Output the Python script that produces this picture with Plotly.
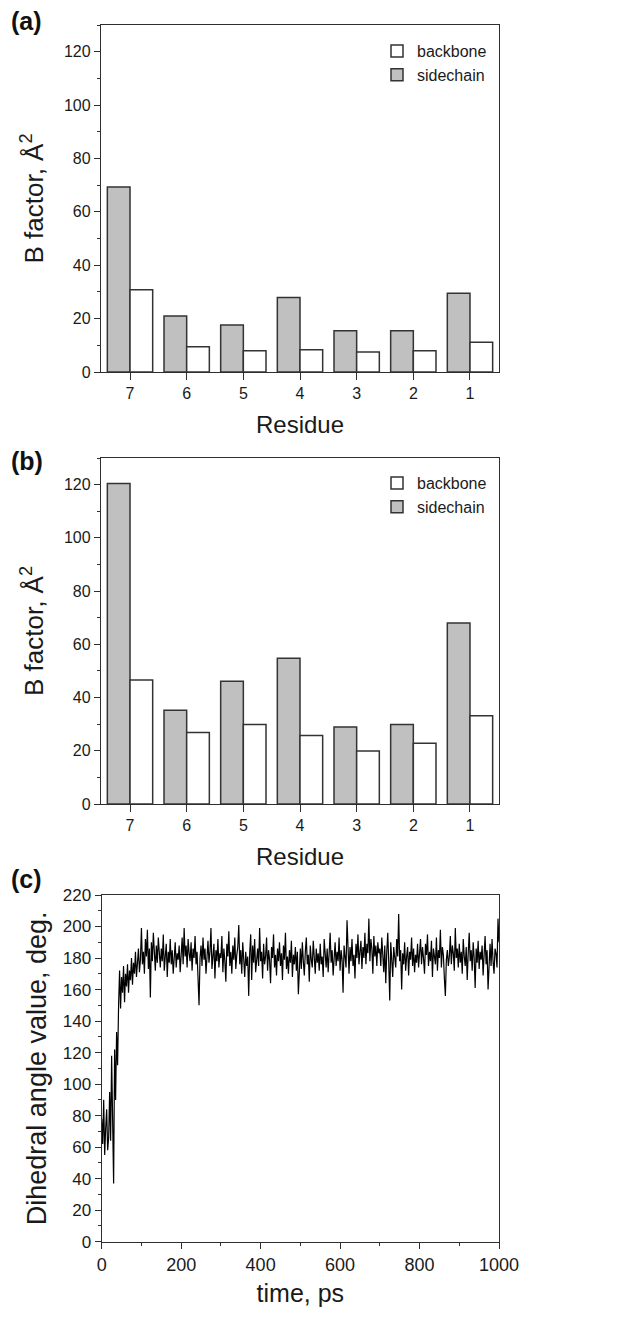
import plotly.graph_objects as go

# ---------------- data ----------------
residues = ["7", "6", "5", "4", "3", "2", "1"]

a_sidechain = [69.3, 21.0, 17.6, 27.9, 15.5, 15.5, 29.5]
a_backbone = [30.8, 9.5, 8.0, 8.3, 7.5, 8.0, 11.1]

b_sidechain = [120.4, 35.2, 46.1, 54.8, 28.9, 29.9, 68.0]
b_backbone = [46.6, 26.9, 29.9, 25.7, 19.9, 22.8, 33.2]

time_step_ps = 2.5
dihedral_deg = [
    78, 62, 90, 55, 72, 84, 58, 66, 95, 64, 118, 82, 37, 122, 90, 133, 112, 150, 172, 148,
    168, 158, 175, 152, 170, 162, 176, 158, 172, 166, 180, 163, 177, 170, 184, 168, 175, 186, 171, 179,
    199, 176, 184, 170, 192, 181, 198, 173, 186, 155, 190, 178, 196, 180, 172, 188, 177, 193, 183, 174,
    186, 178, 195, 172, 181, 189, 168, 184, 177, 192, 176, 185, 170, 182, 190, 174, 183, 179, 188, 171,
    184, 193, 176, 199, 181, 188, 174, 192, 183, 178, 190, 172, 186, 180, 194, 176, 184, 169, 150, 180,
    188, 175, 193, 179, 186, 170, 182, 191, 177, 184, 199, 173, 181, 189, 167, 185, 178, 192, 174, 183,
    180, 194, 171, 186, 178, 165, 189, 181, 197, 175, 184, 170, 188, 179, 193, 173, 182, 187, 201, 176,
    185, 170, 190, 178, 168, 184, 175, 181, 156, 183, 195, 166, 188, 177, 192, 171, 180, 186, 175, 199,
    178, 184, 167, 189, 176, 181, 193, 172, 185, 179, 164, 187, 180, 195, 174, 182, 169, 186, 178, 190,
    175, 183, 166, 188, 179, 196, 173, 181, 170, 185, 177, 191, 168, 182, 176, 187, 172, 184, 157, 180,
    186, 173, 190, 178, 169, 184, 193, 176, 182, 165, 188, 179, 174, 191, 181, 170, 186, 177, 183, 172,
    189, 176, 181, 168, 192, 180, 174, 186, 171, 183, 196, 177, 185, 169, 181, 190, 175, 184, 178, 193,
    172, 185, 179, 158, 188, 181, 174, 204, 183, 170, 187, 178, 192, 175, 182, 167, 189, 180, 195, 176,
    184, 191, 173, 187, 180, 196, 176, 189, 183, 205, 178, 192, 186, 170, 194, 181, 188, 175, 190, 183,
    186, 175, 193, 180, 171, 188, 164, 184, 196, 177, 153, 190, 182, 168, 187, 179, 174, 192, 181, 208,
    178, 185, 160, 183, 176, 190, 172, 181, 187, 169, 184, 179, 193, 175, 186, 171, 182, 177, 189, 174,
    183, 192, 176, 187, 180, 170, 189, 182, 195, 175, 184, 178, 191, 168, 186, 181, 176, 193, 172, 185,
    180, 198, 174, 187, 182, 167, 156, 179, 185, 175, 181, 194, 176, 188, 183, 172, 199, 180, 186, 174,
    189, 177, 184, 170, 192, 181, 175, 187, 166, 183, 196, 178, 185, 172, 190, 180, 161, 186, 177, 191,
    173, 184, 179, 188, 169, 182, 194, 176, 185, 160, 181, 189, 175, 192, 178, 170, 186, 183, 174, 205,
    190,
]
time_ps = [i * time_step_ps for i in range(len(dihedral_deg))]

# ---------------- styling ----------------
FONT = "Liberation Sans, Arial, sans-serif"
AXC = "#2e2e2e"
BAR_LINE = "#333333"
GREY = "#c0c0c0"
TXT = "#1a1a1a"
W, H = 623, 1317


def px_x(p):
    return p / W


def px_y(p):
    return 1 - p / H


fig = go.Figure()

bar_line = dict(color=BAR_LINE, width=1.5)
# panel (a)
fig.add_trace(go.Bar(x=residues, y=a_sidechain, name="sidechain", marker=dict(color=GREY, line=bar_line),
                     xaxis="x", yaxis="y", legend="legend", legendrank=2))
fig.add_trace(go.Bar(x=residues, y=a_backbone, name="backbone", marker=dict(color="white", line=bar_line),
                     xaxis="x", yaxis="y", legend="legend", legendrank=1))
# panel (b)
fig.add_trace(go.Bar(x=residues, y=b_sidechain, name="sidechain", marker=dict(color=GREY, line=bar_line),
                     xaxis="x2", yaxis="y2", legend="legend2", legendrank=2))
fig.add_trace(go.Bar(x=residues, y=b_backbone, name="backbone", marker=dict(color="white", line=bar_line),
                     xaxis="x2", yaxis="y2", legend="legend2", legendrank=1))
# panel (c)
fig.add_trace(go.Scatter(x=time_ps, y=dihedral_deg, mode="lines", line=dict(color="black", width=1.2),
                         xaxis="x3", yaxis="y3", showlegend=False))

xdom = [px_x(101), px_x(499)]

common_axis = dict(showline=True, linecolor=AXC, linewidth=1.4, mirror=True, ticks="outside",
                   tickcolor=AXC, tickwidth=1.4, showgrid=False, zeroline=False, automargin=False,
                   tickfont=dict(family=FONT, size=16, color=TXT))

bar_x = dict(common_axis, type="category", range=[-0.512, 6.512], ticklen=7,
             title=dict(text="Residue", font=dict(family=FONT, size=24, color=TXT), standoff=14))
bar_y = dict(common_axis, range=[0, 130], dtick=20, tick0=0, ticklen=6,
             minor=dict(dtick=10, ticks="outside", ticklen=3, tickcolor=AXC, tickwidth=1.2),
             title=dict(text="B factor, Å<sup>2</sup>", font=dict(family=FONT, size=26, color=TXT), standoff=12))

fig.update_layout(
    width=W, height=H,
    margin=dict(l=0, r=0, t=0, b=0, autoexpand=False),
    paper_bgcolor="white", plot_bgcolor="white",
    barmode="group", bargap=0.2, bargroupgap=0,
    font=dict(family=FONT, color=TXT),
    xaxis=dict(bar_x, domain=xdom, anchor="y"),
    yaxis=dict(bar_y, domain=[px_y(372), px_y(25)], anchor="x"),
    xaxis2=dict(bar_x, domain=xdom, anchor="y2"),
    yaxis2=dict(bar_y, domain=[px_y(804), px_y(458)], anchor="x2"),
    xaxis3=dict(common_axis, domain=[px_x(101.7), px_x(499)], anchor="y3", range=[0, 1000], dtick=200, ticklen=6,
                tickfont=dict(family=FONT, size=18, color=TXT),
                minor=dict(dtick=100, ticks="outside", ticklen=3, tickcolor=AXC, tickwidth=1.2),
                title=dict(text="time, ps", font=dict(family=FONT, size=25, color=TXT), standoff=10)),
    yaxis3=dict(common_axis, domain=[px_y(1241.7), px_y(895)], anchor="x3", range=[0, 220], dtick=20, ticklen=6,
                tickfont=dict(family=FONT, size=17, color=TXT),
                minor=dict(dtick=10, ticks="outside", ticklen=3, tickcolor=AXC, tickwidth=1.2),
                title=dict(text="Dihedral angle value, deg.", font=dict(family=FONT, size=27, color=TXT), standoff=8)),
    legend=dict(x=px_x(377), y=px_y(34), xanchor="left", yanchor="top", bgcolor="rgba(0,0,0,0)",
                font=dict(family=FONT, size=16, color=TXT), itemwidth=30),
    legend2=dict(x=px_x(377), y=px_y(466), xanchor="left", yanchor="top", bgcolor="rgba(0,0,0,0)",
                 font=dict(family=FONT, size=16, color=TXT), itemwidth=30),
    annotations=[
        dict(text="<b>(a)</b>", x=px_x(27), y=px_y(21), xref="paper", yref="paper", showarrow=False,
             xanchor="center", yanchor="middle", font=dict(family=FONT, size=25, color="#111")),
        dict(text="<b>(b)</b>", x=px_x(27), y=px_y(461), xref="paper", yref="paper", showarrow=False,
             xanchor="center", yanchor="middle", font=dict(family=FONT, size=25, color="#111")),
        dict(text="<b>(c)</b>", x=px_x(27), y=px_y(879), xref="paper", yref="paper", showarrow=False,
             xanchor="center", yanchor="middle", font=dict(family=FONT, size=25, color="#111")),
    ],
)

# remove the browser's default 8px body margin so the figure sits at the page origin
fig.write_html("out.html", config={"displayModeBar": False},
               post_script="document.body.style.margin='0px';document.body.style.overflow='hidden';")
